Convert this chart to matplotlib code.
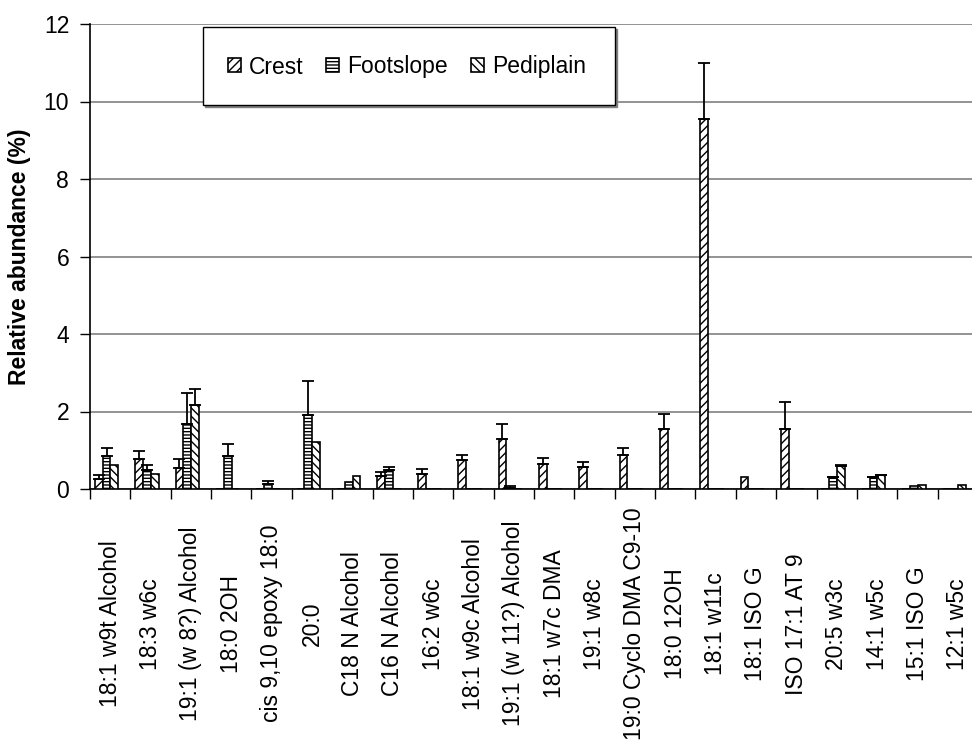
import numpy as np
import matplotlib
matplotlib.use('Agg')
import matplotlib.pyplot as plt
from matplotlib.patches import Rectangle

plt.rcParams['font.family'] = ['Liberation Sans', 'DejaVu Sans']
plt.rcParams['hatch.linewidth'] = 1.0

labels = ["18:1 w9t Alcohol", "18:3 w6c", "19:1 (w 8?) Alcohol", "18:0 2OH",
          "cis 9,10 epoxy 18:0", "20:0", "C18 N Alcohol", "C16 N Alcohol",
          "16:2 w6c", "18:1 w9c Alcohol", "19:1 (w 11?) Alcohol", "18:1 w7c DMA",
          "19:1 w8c", "19:0 Cyclo DMA C9-10", "18:0 12OH", "18:1 w11c",
          "18:1 ISO G", "ISO 17:1 AT 9", "20:5 w3c", "14:1 w5c", "15:1 ISO G",
          "12:1 w5c"]

nan = np.nan
crest = [0.26, 0.78, 0.54, 0, 0, 0, 0, 0.34, 0.39, 0.74, 1.30, 0.64,
         0.58, 0.88, 1.55, 9.54, 0.30, 1.56, 0, 0, 0, 0]
crest_err = [0.09, 0.21, 0.23, nan, nan, nan, nan, 0.11, 0.12, 0.15, 0.39, 0.16,
             0.12, 0.18, 0.39, 1.45, nan, 0.68, nan, nan, nan, nan]
foot = [0.86, 0.50, 1.68, 0.84, 0.12, 1.91, 0.18, 0.50, 0, 0, 0.03, 0,
        0, 0, 0, 0, 0, 0, 0.30, 0.30, 0.09, 0]
foot_err = [0.20, 0.12, 0.79, 0.31, 0.09, 0.89, nan, 0.08, nan, nan, 0.06, nan,
            nan, nan, nan, nan, nan, nan, 0.02, 0.02, nan, nan]
pedi = [0.63, 0.40, 2.16, 0, 0, 1.21, 0.34, 0, 0, 0, 0, 0,
        0, 0, 0, 0, 0, 0, 0.60, 0.35, 0.11, 0.10]
pedi_err = [nan, nan, 0.43, nan, nan, nan, nan, nan, nan, nan, nan, nan,
            nan, nan, nan, nan, nan, nan, 0.02, 0.02, nan, nan]

W, H = 972, 746
fs = 16.5
fig = plt.figure(figsize=(W / 100, H / 100), dpi=100)
ax = fig.add_axes([90 / W, (H - 489) / H, 888 / W, 465 / H])

x = np.arange(len(labels))
w = 0.193
shift = -0.09
series = [(crest, crest_err, '////', 'Crest'),
          (foot, foot_err, '-----', 'Footslope'),
          (pedi, pedi_err, '\\\\\\\\', 'Pediplain')]
for i, (vals, errs, hatch, name) in enumerate(series):
    xs = x + shift + (i - 1) * w
    ax.bar(xs, vals, width=w, color='white', edgecolor='black', linewidth=1.2,
           hatch=hatch, label=name, zorder=3)
    errs = np.array(errs, dtype=float)
    ok = ~np.isnan(errs)
    ax.errorbar(xs[ok], np.array(vals)[ok], yerr=[np.zeros(ok.sum()), errs[ok]],
                fmt='none', ecolor='black', elinewidth=1.3, capsize=4,
                capthick=1.3, zorder=4)

ax.set_xlim(-0.5, len(labels) - 0.5)
ax.set_ylim(0, 12)
ax.set_yticks(range(0, 13, 2))
ax.tick_params(axis='y', labelsize=fs, length=7, width=1, direction='out', pad=8)
ax.yaxis.grid(True, color='#808080', linewidth=1.2, zorder=0)
ax.set_axisbelow(True)

# boundaries get the tick marks, centers get the labels
ax.set_xticks(np.arange(len(labels) + 1) - 0.5)
ax.set_xticklabels([])
ax.tick_params(axis='x', which='major', length=7, width=1, direction='out')
ax.set_xticks(x, minor=True)
ax.set_xticklabels(labels, minor=True, rotation=90, fontsize=fs,
                   ha='center', va='center')
ax.tick_params(axis='x', which='minor', length=0, pad=97)

for s in ['top', 'right']:
    ax.spines[s].set_visible(False)
ax.spines['left'].set_linewidth(1.2)
ax.spines['bottom'].set_linewidth(1.2)

ax.set_ylabel("Relative abundance (%)", fontsize=fs, fontweight='bold',
              labelpad=9)

# legend box with shadow
fig.patches.append(Rectangle((205 / W, (H - 107) / H), 412 / W, 78 / H,
                             transform=fig.transFigure, facecolor='#808080',
                             edgecolor='#808080', zorder=5))
fig.patches.append(Rectangle((203 / W, (H - 105) / H), 412 / W, 78 / H,
                             transform=fig.transFigure, facecolor='white',
                             edgecolor='black', linewidth=1, zorder=6))
leg = fig.legend(loc='center left', bbox_to_anchor=(207 / W, (H - 67) / H),
                 ncol=3, frameon=False, fontsize=fs, handlelength=0.57,
                 handleheight=0.57, handletextpad=0.35, columnspacing=1.0)
leg.set_zorder(7)

fig.savefig('out.png', dpi=100)
